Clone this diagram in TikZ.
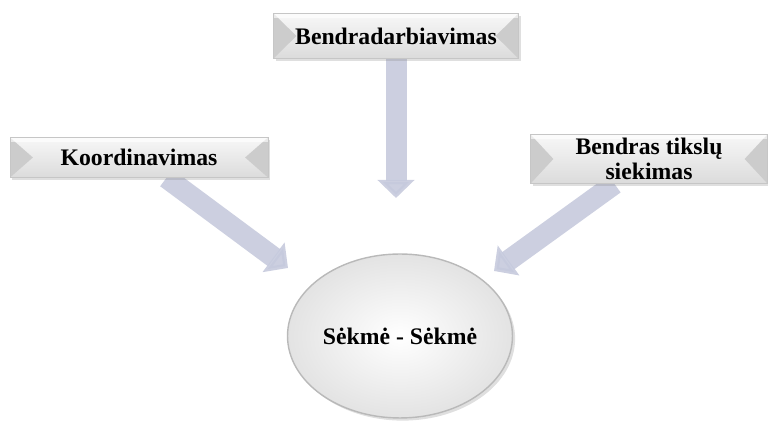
\documentclass[tikz,border=0pt]{standalone}
\usepackage{fontspec}
\setmainfont{Liberation Serif}
\usetikzlibrary{arrows.meta,shadows,shapes.geometric,backgrounds}
\definecolor{arrowblue}{HTML}{C6CADD}
\tikzset{
    bevelbox/.style={rectangle, draw=gray!45, align=center, inner sep=2pt,
        font=\fontsize{13.5}{14.5}\selectfont\bfseries,
        top color=gray!6, bottom color=gray!28,
        drop shadow={opacity=0.25, shadow xshift=1.2pt, shadow yshift=-1.2pt},
        path picture={
            \fill[gray!40] (path picture bounding box.north west) -- ([xshift=13pt]path picture bounding box.west)
                -- (path picture bounding box.south west) -- cycle;
            \fill[gray!40] (path picture bounding box.north east) -- ([xshift=-13pt]path picture bounding box.east)
                -- (path picture bounding box.south east) -- cycle;
            \fill[white, opacity=0.6] (path picture bounding box.north west) rectangle ([yshift=-2.5pt]path picture bounding box.north east);
        }},
    bigarrow/.style={draw=arrowblue, line width=0.42cm, opacity=0.9,
        -{Triangle[length=0.36cm, width=0.72cm]}}
}
\begin{document}
\begin{tikzpicture}[x=0.02cm, y=-0.02cm]
    \useasboundingbox (0,0) rectangle (768,421);
    % outcome
    \node[ellipse, draw=gray!55, line width=0.8pt, inner sep=0pt, minimum width=4.5cm, minimum height=3.28cm,
        inner color=white, outer color=gray!22,
        drop shadow={opacity=0.25, shadow xshift=1.5pt, shadow yshift=-1.5pt},
        font=\fontsize{13.5}{14.5}\selectfont\bfseries] (sekme) at (400,336) {Sėkmė - Sėkmė};
    % factors
    \node[bevelbox, minimum width=4.9cm, minimum height=0.9cm] (bendr) at (396,36) {Bendradarbiavimas};
    \node[bevelbox, minimum width=5.16cm, minimum height=0.8cm] (koord) at (139,157.5) {Koordinavimas};
    \node[bevelbox, minimum width=4.74cm, minimum height=0.96cm] (tiksl) at (649,159) {Bendras tikslų\\siekimas};
    \coordinate (tipK) at (288,268);
    \coordinate (tipB) at (396,198);
    \coordinate (tipT) at (494,271);
    \begin{scope}[on background layer]
        \draw[bigarrow] (bendr) -- (tipB);
        \draw[bigarrow] (koord) -- (tipK);
        \draw[bigarrow] (tiksl) -- (tipT);
    \end{scope}
\end{tikzpicture}
\end{document}
